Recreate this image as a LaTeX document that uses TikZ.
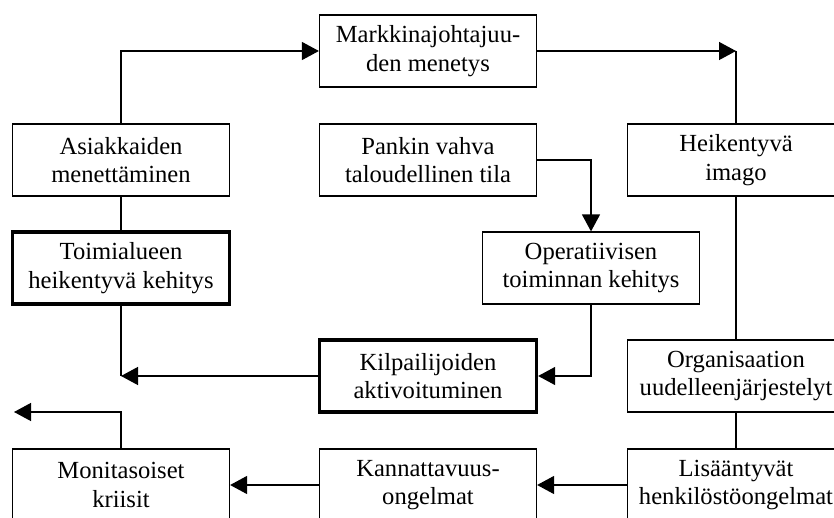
\documentclass[tikz,border=0pt]{standalone}
\usepackage{fontspec}
\setmainfont{Liberation Serif}
\usetikzlibrary{arrows.meta}
\begin{document}
\begin{tikzpicture}[x=1pt,y=-1pt,
  box/.style={draw, line width=1.2pt, minimum width=217pt, minimum height=72pt,
    inner sep=0pt, align=center, font=\fontsize{24.6}{28.3}\selectfont},
  keybox/.style={box, line width=3.3pt},
  link/.style={line width=1.3pt},
  arr/.style={link, -{Triangle[length=17pt,width=18pt]}}]
\useasboundingbox (0,0) rectangle (834,518);
\clip (0,0) rectangle (834,518);
% boxes
\node[box] (mark) at (428,51) {Markkinajohtajuu-\\den menetys};
\node[box] (asi) at (121,160) {Asiakkaiden\\menettäminen};
\node[box] (pank) at (428,160) {Pankin vahva\\taloudellinen tila};
\node[box] (heik) at (736,160) {Heikentyvä\\imago};
\node[keybox] (toim) at (121,268) {Toimialueen\\heikentyvä kehitys};
\node[box] (oper) at (591,268) {Operatiivisen\\toiminnan kehitys};
\node[keybox] (kilp) at (428,376) {Kilpailijoiden\\aktivoituminen};
\node[box] (org) at (736,376) {Organisaation\\uudelleenjärjestelyt};
\node[box] (mon) at (121,485) {Monitasoiset\\kriisit};
\node[box] (kann) at (428,485) {Kannattavuus-\\ongelmat};
\node[box] (lis) at (736,485) {Lisääntyvät\\henkilöstöongelmat};
% junction points
\coordinate (c1) at (736,51);
\coordinate (c2) at (121,376);
\coordinate (c3) at (14,412);
% connectors
\draw[arr] (asi.north) |- (mark.west);
\draw[arr] (mark.east) -- (c1);
\draw[link] (c1) -- (heik.north);
\draw[link] (asi.south) -- (toim.north);
\draw[arr] (pank.east) -| (oper.north);
\draw[link] (heik.south) -- (org.north);
\draw[link] (toim.south) -- (c2);
\draw[arr] (kilp.west) -- (c2);
\draw[arr] (oper.south) |- (kilp.east);
\draw[link] (org.south) -- (lis.north);
\draw[arr] (lis.west) -- (kann.east);
\draw[arr] (kann.west) -- (mon.east);
\draw[arr] (mon.north) |- (c3);
\end{tikzpicture}
\end{document}
